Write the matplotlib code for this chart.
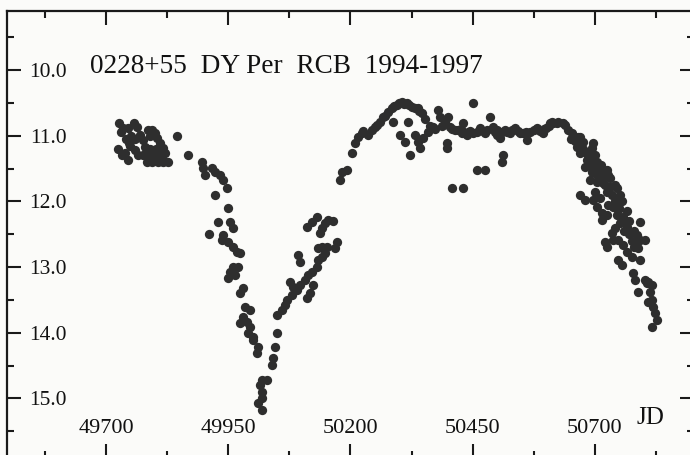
import matplotlib
matplotlib.use("Agg")
import matplotlib.pyplot as plt
from matplotlib.ticker import MultipleLocator, FormatStrFormatter

# DY Per light curve, 1994-1997
# first maximum + start of fade
jd_a = [49727, 49735, 49745, 49757, 49763, 49725, 49747, 49739, 49745, 49759,
        49765, 49770, 49776, 49780, 49786, 49794, 49800, 49804, 49810, 49817,
        49821, 49784, 49794, 49806, 49817, 49827, 49786, 49752, 49740, 49790,
        49798, 49812, 49775, 49730, 49750, 49760, 49790, 49802, 49808, 49815,
        49733, 49845, 49868]
mag_a = [10.81, 10.88, 10.88, 10.81, 10.87, 11.20, 11.11, 11.26, 11.37, 11.22,
         11.29, 10.99, 11.07, 11.17, 10.91, 10.91, 10.96, 11.03, 11.11, 11.19,
         11.26, 11.40, 11.40, 11.40, 11.40, 11.40, 11.29, 11.00, 11.05, 11.00,
         11.30, 11.30, 11.30, 10.95, 11.15, 11.05, 11.20, 11.20, 11.25, 11.35,
         11.30, 11.00, 11.29]

# decline into the deep minimum
jd_b = [49896, 49898, 49902, 49917, 49923, 49933, 49939, 49947, 49923, 49949,
        49929, 49954, 49960, 49911, 49939, 49937, 49949, 49960, 49968, 49974,
        49960, 49970, 49954, 49949, 49964, 49980, 49974, 49984, 49994, 49980,
        49988, 49974, 49994, 49990, 50001, 50001, 50011, 50009, 50019, 50029,
        50015, 50019, 50019, 50011, 50019]
mag_b = [11.40, 11.49, 11.60, 11.49, 11.55, 11.60, 11.67, 11.80, 11.90, 12.10,
         12.31, 12.31, 12.40, 12.50, 12.51, 12.59, 12.62, 12.69, 12.77, 12.79,
         13.00, 13.00, 13.07, 13.17, 13.12, 13.32, 13.39, 13.61, 13.65, 13.76,
         13.84, 13.85, 13.91, 14.00, 14.06, 14.11, 14.22, 14.31, 14.72, 14.72,
         14.79, 14.90, 14.99, 15.07, 15.17]

# recovery
jd_c = [50039, 50042, 50046, 50050, 50050, 50060, 50066, 50070, 50080, 50082,
        50076, 50091, 50097, 50107, 50113, 50111, 50117, 50123, 50121, 50131,
        50134, 50142, 50148, 50142, 50152, 50134, 50093, 50097, 50172, 50168,
        50111, 50121, 50131, 50142, 50148, 50154, 50164, 50138]
mag_c = [14.49, 14.38, 14.22, 14.00, 13.73, 13.65, 13.58, 13.50, 13.42, 13.30,
         13.23, 13.35, 13.27, 13.20, 13.12, 13.47, 13.39, 13.27, 13.07, 13.00,
         12.89, 12.85, 12.79, 12.69, 12.69, 12.71, 12.82, 12.92, 12.62, 12.71,
         12.39, 12.31, 12.24, 12.40, 12.33, 12.28, 12.30, 12.48]

# maximum light
jd_d = [50183, 50179, 50193, 50203, 50209, 50215, 50224, 50236, 50244, 50250,
        50260, 50266, 50277, 50285, 50295, 50305, 50316, 50326, 50338, 50346,
        50287, 50318, 50301, 50311, 50322, 50332, 50338, 50342, 50348, 50358,
        50369, 50379, 50383, 50393, 50399, 50403, 50414, 50397, 50397, 50428,
        50430, 50438, 50451, 50451, 50459, 50475, 50408, 50430, 50465, 50475,
        50485, 50491, 50500, 50506, 50512, 50510, 50516, 50526, 50536, 50547,
        50561, 50567, 50581, 50594, 50608, 50622, 50254, 50270, 50290, 50300,
        50310, 50320, 50332, 50226, 50420, 50445, 50458, 50470, 50480, 50495,
        50520, 50530, 50542, 50552, 50575, 50588, 50600, 50615, 50340, 50352,
        50362, 50372, 50388, 50408, 50425, 50440, 50500, 50510, 50558, 50595,
        50605]
mag_d = [11.55, 11.67, 11.52, 11.26, 11.11, 11.02, 10.96, 10.99, 10.91, 10.87,
         10.79, 10.72, 10.64, 10.58, 10.53, 10.49, 10.50, 10.56, 10.58, 10.65,
         10.79, 10.79, 10.99, 11.10, 11.29, 10.99, 11.10, 11.19, 11.03, 10.94,
         10.87, 10.61, 10.72, 10.79, 10.72, 10.87, 10.91, 11.11, 11.19, 10.96,
         10.81, 10.99, 10.50, 10.96, 11.52, 11.52, 11.80, 11.80, 10.88, 10.96,
         10.72, 10.87, 10.99, 11.03, 11.29, 11.40, 10.91, 10.96, 10.88, 10.96,
         11.07, 10.94, 10.88, 10.96, 10.81, 10.81, 10.83, 10.70, 10.55, 10.50,
         10.52, 10.53, 10.58, 10.93, 10.92, 10.93, 10.95, 10.93, 10.92, 10.95,
         10.95, 10.92, 10.93, 10.96, 10.92, 10.93, 10.88, 10.80, 10.62, 10.75,
         10.85, 10.90, 10.85, 10.90, 10.90, 10.95, 10.92, 10.95, 10.95, 10.90,
         10.85]

# 1997 fade
jd_e = [50612, 50624, 50639, 50635, 50645, 50653, 50655, 50665, 50669, 50675,
        50696, 50694, 50663, 50669, 50684, 50696, 50680, 50694, 50704, 50725,
        50727, 50690, 50704, 50716, 50731, 50745, 50751, 50669, 50680, 50696,
        50704, 50714, 50714, 50727, 50737, 50747, 50757, 50751, 50765, 50792,
        50741, 50735, 50737, 50720, 50725, 50747, 50757, 50765, 50776, 50786,
        50792, 50802, 50788, 50792, 50747, 50755, 50778, 50782, 50788, 50802,
        50808, 50817, 50812, 50817, 50819, 50823, 50827, 50817, 50806, 50808,
        50675, 50685, 50700, 50690, 50700, 50710, 50715, 50720, 50725, 50735,
        50740, 50745, 50750, 50760, 50770, 50775, 50780, 50760, 50650, 50660,
        50665, 50680, 50690, 50705, 50712, 50720, 50730, 50740, 50755, 50765,
        50770, 50780, 50785, 50700, 50710, 50725]
mag_e = [10.79, 10.79, 10.84, 10.81, 10.91, 10.96, 11.02, 11.02, 11.02, 11.10,
         11.11, 11.19, 11.17, 11.26, 11.37, 11.40, 11.48, 11.55, 11.60, 11.52,
         11.60, 11.67, 11.70, 11.72, 11.78, 11.80, 11.90, 11.90, 11.98, 11.98,
         12.09, 12.18, 12.28, 12.05, 12.09, 12.13, 12.24, 12.33, 12.39, 12.31,
         12.40, 12.48, 12.59, 12.62, 12.69, 12.59, 12.66, 12.77, 12.85, 12.51,
         12.59, 12.59, 12.71, 12.89, 12.89, 12.97, 13.09, 13.20, 13.38, 13.20,
         13.23, 13.27, 13.38, 13.50, 13.61, 13.70, 13.81, 13.91, 13.24, 13.53,
         11.20, 11.30, 11.30, 11.45, 11.50, 11.55, 11.65, 11.75, 11.85, 11.90,
         12.00, 12.20, 12.10, 12.30, 12.50, 12.60, 12.70, 12.45, 11.05, 11.08,
         11.12, 11.25, 11.35, 11.40, 11.45, 11.55, 11.65, 11.75, 12.00, 12.15,
         12.30, 12.45, 12.60, 11.85, 11.95, 12.20]

jd = jd_a + jd_b + jd_c + jd_d + jd_e
vmag = mag_a + mag_b + mag_c + mag_d + mag_e

plt.rcParams["font.family"] = ["Liberation Serif", "DejaVu Serif"]

fig = plt.figure(figsize=(6.9, 4.55), dpi=100, facecolor="#fbfbf9")
ax = fig.add_axes([0.0101, -0.0066, 0.9957, 0.9835])
ax.set_facecolor("#fbfbf9")

ax.plot(jd, vmag, "o", ms=6.7, mew=0, color="#2e2e2e")

ax.set_xlim(49497.5, 50902.5)
ax.set_ylim(15.906, 9.094)

ax.xaxis.set_major_locator(MultipleLocator(250, offset=200))
ax.xaxis.set_minor_locator(MultipleLocator(125, offset=75))
ax.yaxis.set_major_locator(MultipleLocator(1.0))
ax.yaxis.set_minor_locator(MultipleLocator(0.5))
ax.yaxis.set_major_formatter(FormatStrFormatter("%.1f"))

for s in ax.spines.values():
    s.set_linewidth(1.6)
    s.set_color("#1a1a1a")

ax.tick_params(which="both", direction="in", top=True, right=True,
               color="#1a1a1a", width=1.5)
ax.tick_params(which="major", length=10)
ax.tick_params(which="minor", length=5)
ax.tick_params(axis="y", which="major", pad=-43, labelsize=15.5, labelcolor="#111111")
ax.tick_params(axis="x", which="major", pad=-28, labelsize=16, labelcolor="#111111")

ax.text(0.1208, 0.860, "0228+55  DY Per  RCB  1994-1997", transform=ax.transAxes,
        fontsize=19.6, color="#111111", va="baseline", ha="left")
ax.text(0.937, 0.0894, "JD", transform=ax.transAxes, fontsize=18,
        color="#111111", va="center", ha="center")

plt.savefig("out.png", dpi=100, facecolor=fig.get_facecolor())
plt.close()
